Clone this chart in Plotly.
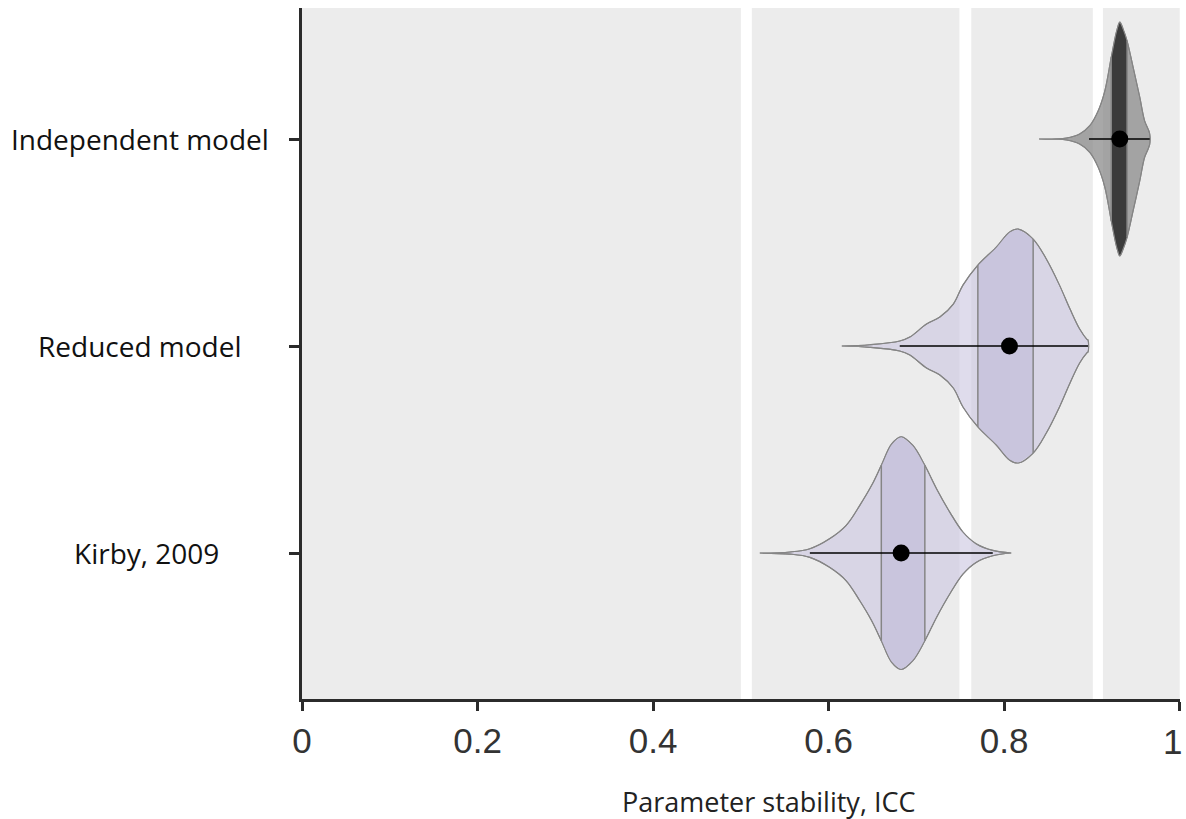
import plotly.graph_objects as go

# ---------------- data ----------------
categories = ["Kirby, 2009", "Reduced model", "Independent model"]

# violin profiles: x positions and relative half-width (peak = 1)
kirby_x = [0.5216, 0.556, 0.5786, 0.601, 0.620, 0.6355, 0.649, 0.660, 0.6716, 0.6826,
           0.696, 0.7096, 0.7229, 0.738, 0.753, 0.768, 0.787, 0.808]
kirby_d = [0.0, 0.009, 0.037, 0.122, 0.237, 0.408, 0.579, 0.75, 0.932, 0.995,
           0.92, 0.75, 0.55, 0.35, 0.18, 0.08, 0.023, 0.0]

reduced_x = [0.615, 0.647, 0.681, 0.6925, 0.7115, 0.7267, 0.742, 0.753, 0.770, 0.791,
             0.806, 0.816, 0.833, 0.848, 0.863, 0.875, 0.886, 0.894, 0.8955]
reduced_d = [0.0, 0.011, 0.043, 0.077, 0.188, 0.248, 0.359, 0.521, 0.692, 0.846,
             0.974, 1.0, 0.915, 0.744, 0.521, 0.316, 0.145, 0.06, 0.051]

indep_x = [0.8398, 0.871, 0.886, 0.8975, 0.907, 0.9146, 0.922, 0.928, 0.9317, 0.9355,
           0.940, 0.947, 0.9544, 0.960, 0.964, 0.9658]
indep_d = [0.0, 0.0085, 0.043, 0.114, 0.24, 0.41, 0.70, 0.92, 1.0, 0.94,
           0.84, 0.61, 0.36, 0.156, 0.085, 0.043]

profiles_x = [kirby_x, reduced_x, indep_x]
profiles_d = [kirby_d, reduced_d, indep_d]

medians = [0.6826, 0.806, 0.9317]
q1 = [0.660, 0.770, 0.922]
q3 = [0.7096, 0.833, 0.940]
whisker_lo = [0.5786, 0.681, 0.8966]
whisker_hi = [0.787, 0.8955, 0.9658]

x_ticks = [0, 0.2, 0.4, 0.6, 0.8, 1.0]
x_ticktext = ["0", "0.2", "0.4", "0.6", "0.8", "1"]
bands = [(0.0, 0.5), (0.5125, 0.749), (0.7625, 0.901), (0.9125, 1.0)]

# ---------------- styles ----------------
HALF_W = 0.565
outer_fill = ["rgba(203,199,224,0.62)", "rgba(203,199,224,0.62)", "rgba(135,135,135,0.72)"]
inner_fill = ["#c9c5dd", "#c9c5dd", "#3b3b3b"]
outline = "#858585"
label_px = [146, 140, 139.5]
TICKFONT = dict(family="Liberation Sans", size=35, color="#333")

L, R, T, B = 302, 6, 8, 120
W, H = 1186, 819
pw = W - L - R
ph = H - T - B

fig = go.Figure()

for i, cat in enumerate(categories):
    xs, ds = profiles_x[i], profiles_d[i]
    top = [i + HALF_W * d for d in ds]
    bot = [i - HALF_W * d for d in ds]
    px = xs + xs[::-1] + [xs[0]]
    py = top + bot[::-1] + [top[0]]
    # outer violin body
    fig.add_trace(go.Scatter(x=px, y=py, mode="lines", fill="toself",
                             fillcolor=outer_fill[i],
                             line=dict(color=outline, width=1.1, shape="spline", smoothing=1.0),
                             hoverinfo="skip", showlegend=False))
    # inner (interquartile) region
    idx = [k for k, v in enumerate(xs) if q1[i] - 1e-9 <= v <= q3[i] + 1e-9]
    ix = [xs[k] for k in idx]
    it = [top[k] for k in idx]
    ib = [bot[k] for k in idx]
    fig.add_trace(go.Scatter(x=ix + ix[::-1] + [ix[0]], y=it + ib[::-1] + [it[0]],
                             mode="lines", fill="toself", fillcolor=inner_fill[i],
                             line=dict(width=0), hoverinfo="skip", showlegend=False))
    # quartile edges
    fig.add_trace(go.Scatter(x=[ix[0], ix[0], None, ix[-1], ix[-1]],
                             y=[it[0], ib[0], None, it[-1], ib[-1]],
                             mode="lines", line=dict(color=outline, width=1.5),
                             hoverinfo="skip", showlegend=False))
    # outline on top
    fig.add_trace(go.Scatter(x=px, y=py, mode="lines",
                             line=dict(color=outline, width=1.1, shape="spline", smoothing=1.0),
                             hoverinfo="skip", showlegend=False))
    # whisker
    fig.add_trace(go.Scatter(x=[whisker_lo[i], whisker_hi[i]], y=[i, i], mode="lines",
                             line=dict(color="black", width=1.5),
                             hoverinfo="skip", showlegend=False))
    # median dot
    fig.add_trace(go.Scatter(x=[medians[i]], y=[i], mode="markers",
                             marker=dict(color="black", size=17, line=dict(width=0)),
                             hoverinfo="skip", showlegend=False))
    # category label
    fig.add_annotation(text=cat, xref="paper", yref="y",
                       x=(label_px[i] - L) / pw, y=i, xanchor="center", yanchor="middle",
                       showarrow=False, font=dict(family="Open Sans", size=28, color="#111"))

for x0, x1 in bands:
    fig.add_shape(type="rect", xref="x", yref="paper", x0=x0, x1=x1, y0=0, y1=1,
                  fillcolor="#ececec", line=dict(width=0), layer="below")

# last tick label sits flush with the right edge (as in the reference)
shown_ticktext = x_ticktext[:-1] + [""]
fig.add_annotation(text=x_ticktext[-1], xref="paper", yref="paper",
                   x=(1184 - L) / pw, y=(H - B - 742) / ph,
                   xanchor="right", yanchor="middle", showarrow=False, font=TICKFONT)

fig.add_annotation(text="Parameter stability, ICC", xref="paper", yref="paper",
                   x=(768 - L) / pw, y=(H - B - 802) / ph,
                   xanchor="center", yanchor="middle", showarrow=False,
                   font=dict(family="Open Sans", size=27, color="#222"))

fig.update_layout(
    width=W, height=H,
    margin=dict(l=L, r=R, t=T, b=B, autoexpand=False),
    paper_bgcolor="white", plot_bgcolor="white",
    showlegend=False,
    xaxis=dict(range=[0, 1.0003], tickvals=x_ticks, ticktext=shown_ticktext,
               automargin=False,
               showgrid=False, zeroline=False, showline=True, linecolor="#2b2b2b",
               linewidth=3, ticks="outside", ticklen=9, tickwidth=2.5, tickcolor="#2b2b2b",
               tickfont=TICKFONT),
    yaxis=dict(range=[-0.705, 2.633], tickvals=[0, 1, 2], showticklabels=False,
               automargin=False,
               showgrid=False, zeroline=False, showline=True, linecolor="#2b2b2b",
               linewidth=3, ticks="outside", ticklen=10, tickwidth=2.5, tickcolor="#2b2b2b"),
)

fig.write_html("out.html")
